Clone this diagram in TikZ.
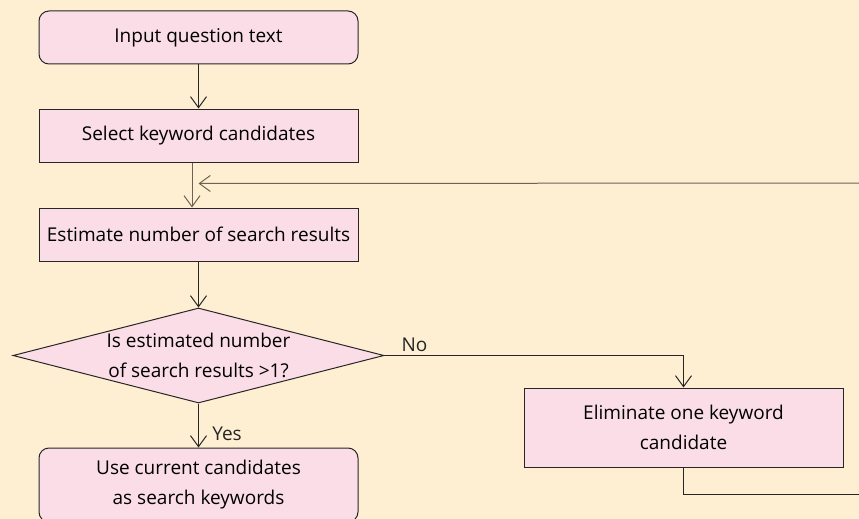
\documentclass[tikz,border=0pt]{standalone}
\usepackage{fontspec}
\setmainfont{Open Sans}
\usetikzlibrary{shapes.geometric, arrows.meta, positioning}

\definecolor{paper}{HTML}{FFEFD2}
\definecolor{boxpink}{HTML}{FADDE6}
\definecolor{edgedark}{HTML}{262626}
\definecolor{loopgray}{HTML}{6B6455}

\begin{document}
\begin{tikzpicture}[
    x=1pt, y=-1pt,
    node distance=44pt,
    font=\fontsize{19}{30}\selectfont,
    >={Straight Barb[length=11pt, width=16pt]},
    stepbox/.style={rectangle, draw=edgedark, fill=boxpink, line width=1pt, minimum width=319pt, minimum height=53pt, align=center, inner sep=0pt},
    endbox/.style={stepbox, rounded corners=10pt},
    decision/.style={diamond, draw=edgedark, fill=boxpink, line width=1pt, shape aspect=3.9, inner sep=0pt, align=center, minimum width=371pt, minimum height=95pt},
    flow/.style={->, line width=1pt, edgedark},
]

\useasboundingbox (0,0) rectangle (859,519);
\clip (0,0) rectangle (859,519);
\fill[paper] (0,0) rectangle (859,519);

\node[endbox] (input) at (198.5,37.5) {Input question text};
\node[stepbox, below=of input] (select) {Select keyword candidates};
\node[stepbox, below=45pt of select] (estimate) {Estimate number of search results};
\node[decision, below=46pt of estimate] (check) {Is estimated number\\of search results >1?};
\node[endbox, below=44pt of check, minimum height=74pt] (use) {Use current candidates\\as search keywords};
\node[stepbox, minimum height=79pt] (drop) at (683.5,427.5) {Eliminate one keyword\\candidate};

% loop back to the estimate step
\coordinate (merge) at ([yshift=24pt]estimate.north);
\coordinate (back) at (872,183);

\draw[flow] (input) -- (select);
\draw[flow, loopgray] ([xshift=-6.5pt]select.south) -- ([xshift=-6.5pt]estimate.north);
\draw[flow] (estimate) -- (check);
\draw[flow] (check) -- node[right=10pt, pos=0.7] {Yes} (use);
\draw[flow] (check.east) -| node[above, pos=0.05] {No} (drop.north);
\draw[flow] (drop.south) -- ++(0,27) -| (back);
\draw[flow, loopgray] (back) -- (merge);

\end{tikzpicture}
\end{document}
